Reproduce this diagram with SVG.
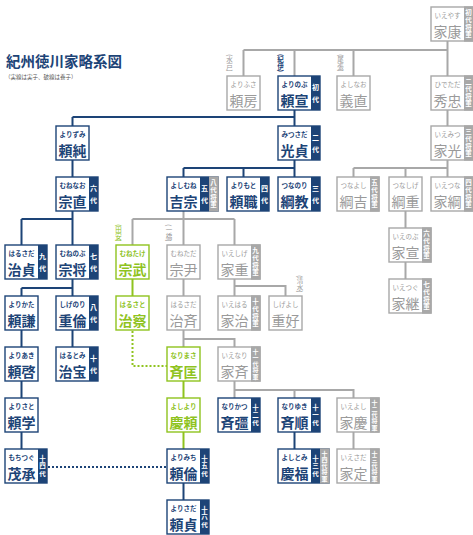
<svg xmlns="http://www.w3.org/2000/svg" width="473" height="535" viewBox="0 0 473 535">
<style>
text{font-family:"Noto Sans CJK JP","Noto Sans",sans-serif}
.box{fill:#fff;stroke-width:1.4}
.navy .box{stroke:#1d4477}.grey .box{stroke:#a8a8a8}.green .box{stroke:#8fc31f}
.tn{fill:#1d4477}.tg{fill:#a8a8a8}
.kana{font-size:6.5px;text-anchor:middle}
.name{font-size:14px;text-anchor:middle}
.navy text.kana,.navy text.name{fill:#1d4477;font-weight:700}
.grey text.kana,.grey text.name{fill:#9a9a9a;font-weight:400}
.green text.kana,.green text.name{fill:#8fc31f;font-weight:700}
.t2,.t3,.t4,.t5{fill:#fff;font-weight:700;text-anchor:middle}
.t2{font-size:7px;letter-spacing:5px}
.t3{font-size:6.5px;letter-spacing:1px}
.t4{font-size:6.5px;letter-spacing:1px}
.t5{font-size:6px;letter-spacing:0.3px}
.ln{fill:none;stroke-width:2}
.lg{stroke:#a8a8a8}.lnv{stroke:#1d4477}.lgr{stroke:#8fc31f}
.dot{stroke-dasharray:2 2}
.ann{font-size:6.5px;text-anchor:middle}
</style>
<text x="6" y="67" font-size="14.5" font-weight="700" fill="#1d4477">紀州徳川家略系図</text>
<text x="5" y="79" font-size="5.5" fill="#555">（実線は実子、破線は養子）</text>
<text class="ann" writing-mode="vertical-rl" x="229.5" y="63" fill="#9a9a9a">(水戸)</text>
<text class="ann" writing-mode="vertical-rl" x="280.5" y="63" fill="#1d4477" font-weight="700">(紀伊)</text>
<text class="ann" writing-mode="vertical-rl" x="340.5" y="63" fill="#9a9a9a">(尾張)</text>
<text class="ann" writing-mode="vertical-rl" x="118.5" y="233" fill="#8fc31f">(田安)</text>
<text class="ann" writing-mode="vertical-rl" x="169" y="233" fill="#9a9a9a">(一橋)</text>
<text class="ann" writing-mode="vertical-rl" x="300" y="284" fill="#9a9a9a">(清水)</text>
<g id="connectors">
<path class="ln lg" d="M447.5 41V76M243.5 50H447.5M243.5 50V76M294.5 50V76M353.5 50V76M447.5 110V126M447.5 160V177M353.5 168H447.5M353.5 168V177M405.5 168V177M405.5 211V228M405.5 262V279M183.5 211V219M132.5 219H234.5M132.5 219V245M183.5 219V245M234.5 219V245M183.5 279V296M234.5 279V296M234.5 286H285.5V296M183.5 330V347M183.5 339H234.5V347M234.5 381V398M234.5 390H353.5V398M294.5 390V398M353.5 432V449"/>
<path class="ln lnv" d="M294.5 110V126M72.5 117H294.5M72.5 117V126M72.5 160V177M294.5 160V177M183.5 168H294.5M183.5 168V177M243.5 168V177M72.5 211V245M21.5 219H72.5M21.5 219V245M72.5 279V296M21.5 288H72.5M21.5 288V296M21.5 330V347M72.5 330V347M21.5 381V398M21.5 432V449M294.5 432V449M183.5 483V500"/>
<path class="ln lnv dot" d="M48 467H167"/>
<path class="ln lgr" d="M132.5 279V296M183.5 381V398M183.5 432V449"/>
<path class="ln lgr dot" d="M132.5 331V366H167"/>
</g>
<g id="ieyasu" class="grey"><rect class="box" x="431" y="7" width="42" height="34"/><rect class="tg" x="464" y="6.3" width="9.7" height="35.4"/><text class="kana" x="447.5" y="18">いえやす</text><text class="name" x="447.5" y="36.5">家康</text><text class="t4" writing-mode="vertical-rl" x="468.5" y="24">初代将軍</text></g>
<g id="yorifusa" class="grey"><rect class="box" x="227" y="76" width="33" height="34"/><text class="kana" x="243.5" y="87">よりふさ</text><text class="name" x="243.5" y="105.5">頼房</text></g>
<g id="yorinobu" class="navy"><rect class="box" x="278" y="76" width="42" height="34"/><rect class="tn" x="311" y="76" width="9" height="34"/><text class="kana" x="294.5" y="87">よりのぶ</text><text class="name" x="294.5" y="105.5">頼宣</text><text class="t2" writing-mode="vertical-rl" x="315.5" y="95.5">初代</text></g>
<g id="yoshinao" class="grey"><rect class="box" x="337" y="76" width="33" height="34"/><text class="kana" x="353.5" y="87">よしなお</text><text class="name" x="353.5" y="105.5">義直</text></g>
<g id="hidetada" class="grey"><rect class="box" x="431" y="76" width="42" height="34"/><rect class="tg" x="464" y="75.3" width="9.7" height="35.4"/><text class="kana" x="447.5" y="87">ひでただ</text><text class="name" x="447.5" y="105.5">秀忠</text><text class="t4" writing-mode="vertical-rl" x="468.5" y="93">二代将軍</text></g>
<g id="yorizumi" class="navy"><rect class="box" x="56" y="126" width="33" height="34"/><text class="kana" x="72.5" y="137">よりずみ</text><text class="name" x="72.5" y="155.5">頼純</text></g>
<g id="mitsusada" class="navy"><rect class="box" x="278" y="126" width="42" height="34"/><rect class="tn" x="311" y="126" width="9" height="34"/><text class="kana" x="294.5" y="137">みつさだ</text><text class="name" x="294.5" y="155.5">光貞</text><text class="t2" writing-mode="vertical-rl" x="315.5" y="145.5">二代</text></g>
<g id="iemitsu" class="grey"><rect class="box" x="431" y="126" width="42" height="34"/><rect class="tg" x="464" y="125.3" width="9.7" height="35.4"/><text class="kana" x="447.5" y="137">いえみつ</text><text class="name" x="447.5" y="155.5">家光</text><text class="t4" writing-mode="vertical-rl" x="468.5" y="143">三代将軍</text></g>
<g id="munenao" class="navy"><rect class="box" x="56" y="177" width="42" height="34"/><rect class="tn" x="89" y="177" width="9" height="34"/><text class="kana" x="72.5" y="188">むねなお</text><text class="name" x="72.5" y="206.5">宗直</text><text class="t2" writing-mode="vertical-rl" x="93.5" y="196.5">六代</text></g>
<g id="yoshimune" class="navy"><rect class="box" x="167" y="177" width="51" height="34"/><rect class="tn" x="200" y="177" width="9" height="34"/><rect class="tg" x="209" y="176.3" width="9.7" height="35.4"/><text class="kana" x="183.5" y="188">よしむね</text><text class="name" x="183.5" y="206.5">吉宗</text><text class="t2" writing-mode="vertical-rl" x="204.5" y="196.5">五代</text><text class="t4" writing-mode="vertical-rl" x="213.5" y="194">八代将軍</text></g>
<g id="yorimoto" class="navy"><rect class="box" x="227" y="177" width="42" height="34"/><rect class="tn" x="260" y="177" width="9" height="34"/><text class="kana" x="243.5" y="188">よりもと</text><text class="name" x="243.5" y="206.5">頼職</text><text class="t2" writing-mode="vertical-rl" x="264.5" y="196.5">四代</text></g>
<g id="tsunanori" class="navy"><rect class="box" x="278" y="177" width="42" height="34"/><rect class="tn" x="311" y="177" width="9" height="34"/><text class="kana" x="294.5" y="188">つなのり</text><text class="name" x="294.5" y="206.5">綱教</text><text class="t2" writing-mode="vertical-rl" x="315.5" y="196.5">三代</text></g>
<g id="tsunayoshi" class="grey"><rect class="box" x="337" y="177" width="42" height="34"/><rect class="tg" x="370" y="176.3" width="9.7" height="35.4"/><text class="kana" x="353.5" y="188">つなよし</text><text class="name" x="353.5" y="206.5">綱吉</text><text class="t4" writing-mode="vertical-rl" x="374.5" y="194">五代将軍</text></g>
<g id="tsunashige" class="grey"><rect class="box" x="389" y="177" width="33" height="34"/><text class="kana" x="405.5" y="188">つなしげ</text><text class="name" x="405.5" y="206.5">綱重</text></g>
<g id="ietsuna" class="grey"><rect class="box" x="431" y="177" width="42" height="34"/><rect class="tg" x="464" y="176.3" width="9.7" height="35.4"/><text class="kana" x="447.5" y="188">いえつな</text><text class="name" x="447.5" y="206.5">家綱</text><text class="t4" writing-mode="vertical-rl" x="468.5" y="194">四代将軍</text></g>
<g id="ienobu" class="grey"><rect class="box" x="389" y="228" width="42" height="34"/><rect class="tg" x="422" y="227.3" width="9.7" height="35.4"/><text class="kana" x="405.5" y="239">いえのぶ</text><text class="name" x="405.5" y="257.5">家宣</text><text class="t4" writing-mode="vertical-rl" x="426.5" y="245">六代将軍</text></g>
<g id="harusada" class="navy"><rect class="box" x="5" y="245" width="42" height="34"/><rect class="tn" x="38" y="245" width="9" height="34"/><text class="kana" x="21.5" y="256">はるさだ</text><text class="name" x="21.5" y="274.5">治貞</text><text class="t2" writing-mode="vertical-rl" x="42.5" y="264.5">九代</text></g>
<g id="munenobu" class="navy"><rect class="box" x="56" y="245" width="42" height="34"/><rect class="tn" x="89" y="245" width="9" height="34"/><text class="kana" x="72.5" y="256">むねのぶ</text><text class="name" x="72.5" y="274.5">宗将</text><text class="t2" writing-mode="vertical-rl" x="93.5" y="264.5">七代</text></g>
<g id="munetake" class="green"><rect class="box" x="116" y="245" width="33" height="34"/><text class="kana" x="132.5" y="256">むねたけ</text><text class="name" x="132.5" y="274.5">宗武</text></g>
<g id="munetada" class="grey"><rect class="box" x="167" y="245" width="33" height="34"/><text class="kana" x="183.5" y="256">むねただ</text><text class="name" x="183.5" y="274.5">宗尹</text></g>
<g id="ieshige" class="grey"><rect class="box" x="218" y="245" width="42" height="34"/><rect class="tg" x="251" y="244.3" width="9.7" height="35.4"/><text class="kana" x="234.5" y="256">いえしげ</text><text class="name" x="234.5" y="274.5">家重</text><text class="t4" writing-mode="vertical-rl" x="255.5" y="262">九代将軍</text></g>
<g id="ietsugu" class="grey"><rect class="box" x="389" y="279" width="42" height="34"/><rect class="tg" x="422" y="278.3" width="9.7" height="35.4"/><text class="kana" x="405.5" y="290">いえつぐ</text><text class="name" x="405.5" y="308.5">家継</text><text class="t4" writing-mode="vertical-rl" x="426.5" y="296">七代将軍</text></g>
<g id="yorikata" class="navy"><rect class="box" x="5" y="296" width="33" height="34"/><text class="kana" x="21.5" y="307">よりかた</text><text class="name" x="21.5" y="325.5">頼謙</text></g>
<g id="shigenori" class="navy"><rect class="box" x="56" y="296" width="42" height="34"/><rect class="tn" x="89" y="296" width="9" height="34"/><text class="kana" x="72.5" y="307">しげのり</text><text class="name" x="72.5" y="325.5">重倫</text><text class="t2" writing-mode="vertical-rl" x="93.5" y="315.5">八代</text></g>
<g id="harusato" class="green"><rect class="box" x="116" y="296" width="33" height="34"/><text class="kana" x="132.5" y="307">はるさと</text><text class="name" x="132.5" y="325.5">治察</text></g>
<g id="harusada-hitotsubashi" class="grey"><rect class="box" x="167" y="296" width="33" height="34"/><text class="kana" x="183.5" y="307">はるさだ</text><text class="name" x="183.5" y="325.5">治斉</text></g>
<g id="ieharu" class="grey"><rect class="box" x="218" y="296" width="42" height="34"/><rect class="tg" x="251" y="295.3" width="9.7" height="35.4"/><text class="kana" x="234.5" y="307">いえはる</text><text class="name" x="234.5" y="325.5">家治</text><text class="t4" writing-mode="vertical-rl" x="255.5" y="313">十代将軍</text></g>
<g id="shigeyoshi" class="grey"><rect class="box" x="269" y="296" width="33" height="34"/><text class="kana" x="285.5" y="307">しげよし</text><text class="name" x="285.5" y="325.5">重好</text></g>
<g id="yoriaki" class="navy"><rect class="box" x="5" y="347" width="33" height="34"/><text class="kana" x="21.5" y="358">よりあき</text><text class="name" x="21.5" y="376.5">頼啓</text></g>
<g id="harutomi" class="navy"><rect class="box" x="56" y="347" width="42" height="34"/><rect class="tn" x="89" y="347" width="9" height="34"/><text class="kana" x="72.5" y="358">はるとみ</text><text class="name" x="72.5" y="376.5">治宝</text><text class="t2" writing-mode="vertical-rl" x="93.5" y="366.5">十代</text></g>
<g id="narimasa" class="green"><rect class="box" x="167" y="347" width="33" height="34"/><text class="kana" x="183.5" y="358">なりまさ</text><text class="name" x="183.5" y="376.5">斉匡</text></g>
<g id="ienari" class="grey"><rect class="box" x="218" y="347" width="42" height="34"/><rect class="tg" x="251" y="346.3" width="9.7" height="35.4"/><text class="kana" x="234.5" y="358">いえなり</text><text class="name" x="234.5" y="376.5">家斉</text><text class="t5" writing-mode="vertical-rl" x="255.5" y="364">十一代将軍</text></g>
<g id="yorisato" class="navy"><rect class="box" x="5" y="398" width="33" height="34"/><text class="kana" x="21.5" y="409">よりさと</text><text class="name" x="21.5" y="427.5">頼学</text></g>
<g id="yoshiyori" class="green"><rect class="box" x="167" y="398" width="33" height="34"/><text class="kana" x="183.5" y="409">よしより</text><text class="name" x="183.5" y="427.5">慶頼</text></g>
<g id="naritsugu" class="navy"><rect class="box" x="218" y="398" width="42" height="34"/><rect class="tn" x="251" y="398" width="9" height="34"/><text class="kana" x="234.5" y="409">なりかつ</text><text class="name" x="234.5" y="427.5">斉彊</text><text class="t3" writing-mode="vertical-rl" x="255.5" y="415.5">十二代</text></g>
<g id="nariyuki" class="navy"><rect class="box" x="278" y="398" width="42" height="34"/><rect class="tn" x="311" y="398" width="9" height="34"/><text class="kana" x="294.5" y="409">なりゆき</text><text class="name" x="294.5" y="427.5">斉順</text><text class="t3" writing-mode="vertical-rl" x="315.5" y="415.5">十一代</text></g>
<g id="ieyoshi" class="grey"><rect class="box" x="337" y="398" width="42" height="34"/><rect class="tg" x="370" y="397.3" width="9.7" height="35.4"/><text class="kana" x="353.5" y="409">いえよし</text><text class="name" x="353.5" y="427.5">家慶</text><text class="t5" writing-mode="vertical-rl" x="374.5" y="415">十二代将軍</text></g>
<g id="mochitsugu" class="navy"><rect class="box" x="5" y="449" width="42" height="34"/><rect class="tn" x="38" y="449" width="9" height="34"/><text class="kana" x="21.5" y="460">もちつぐ</text><text class="name" x="21.5" y="478.5">茂承</text><text class="t3" writing-mode="vertical-rl" x="42.5" y="466.5">十四代</text></g>
<g id="yorimichi" class="navy"><rect class="box" x="167" y="449" width="42" height="34"/><rect class="tn" x="200" y="449" width="9" height="34"/><text class="kana" x="183.5" y="460">よりみち</text><text class="name" x="183.5" y="478.5">頼倫</text><text class="t3" writing-mode="vertical-rl" x="204.5" y="466.5">十五代</text></g>
<g id="yoshitomi" class="navy"><rect class="box" x="278" y="449" width="51" height="34"/><rect class="tn" x="311" y="449" width="9" height="34"/><rect class="tg" x="320" y="448.3" width="9.7" height="35.4"/><text class="kana" x="294.5" y="460">よしとみ</text><text class="name" x="294.5" y="478.5">慶福</text><text class="t3" writing-mode="vertical-rl" x="315.5" y="466.5">十三代</text><text class="t5" writing-mode="vertical-rl" x="324.5" y="466">十四代将軍</text></g>
<g id="iesada" class="grey"><rect class="box" x="337" y="449" width="42" height="34"/><rect class="tg" x="370" y="448.3" width="9.7" height="35.4"/><text class="kana" x="353.5" y="460">いえさだ</text><text class="name" x="353.5" y="478.5">家定</text><text class="t5" writing-mode="vertical-rl" x="374.5" y="466">十三代将軍</text></g>
<g id="yorisada" class="navy"><rect class="box" x="167" y="500" width="42" height="34"/><rect class="tn" x="200" y="500" width="9" height="34"/><text class="kana" x="183.5" y="511">よりさだ</text><text class="name" x="183.5" y="529.5">頼貞</text><text class="t3" writing-mode="vertical-rl" x="204.5" y="517.5">十六代</text></g>
</svg>
